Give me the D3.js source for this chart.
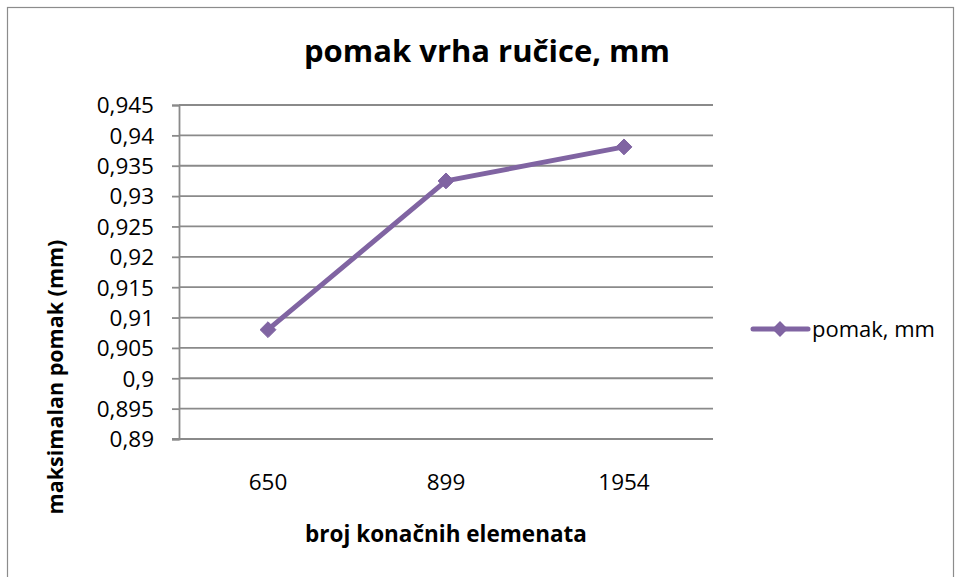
<!DOCTYPE html>
<html>
<head>
<meta charset="utf-8">
<script src="https://cdn.jsdelivr.net/npm/d3@7"></script>
<style>
  html, body { margin: 0; padding: 0; background: #fff; }
  svg text { font-family: "Open Sans", Lato, sans-serif; fill: #000; }
</style>
</head>
<body>
<svg id="chart" width="956" height="577"></svg>
<script>
// Mesh refinement study: max tip displacement vs. number of finite elements
const categories = ["650", "899", "1954"];
const pomak = [0.908, 0.9325, 0.9381];
const yTicks = [0.89, 0.895, 0.9, 0.905, 0.91, 0.915, 0.92, 0.925, 0.93, 0.935, 0.94, 0.945];
const seriesName = "pomak, mm";
const chartTitle = "pomak vrha ručice, mm";
const xTitle = "broj konačnih elemenata";
const yTitle = "maksimalan pomak (mm)";

const svg = d3.select("#chart");
const color = "#8064A2";
const gridColor = "#8a8a8a";

const plot = { left: 179, right: 713, top: 105, bottom: 439 };

// outer chart frame
svg.append("rect")
  .attr("x", 7.5).attr("y", 7.5)
  .attr("width", 946).attr("height", 600)
  .attr("fill", "none").attr("stroke", "#8c8c8c").attr("stroke-width", 1.2);

const x = d3.scaleBand().domain(categories).range([plot.left, plot.right]);
const y = d3.scaleLinear().domain([0.89, 0.945]).range([plot.bottom, plot.top]);

const fmt = v => d3.format("")(+v.toFixed(3)).replace(".", ",");

// horizontal gridlines
svg.append("g").selectAll("line")
  .data(yTicks.slice(1))
  .join("line")
  .attr("x1", plot.left).attr("x2", plot.right)
  .attr("y1", d => y(d)).attr("y2", d => y(d))
  .attr("stroke", gridColor).attr("stroke-width", 1.8);

// y axis
const yAxis = svg.append("g")
  .attr("transform", `translate(${plot.left},0)`)
  .call(d3.axisLeft(y).tickValues(yTicks).tickSize(7).tickPadding(18).tickFormat(fmt));
yAxis.select(".domain").attr("stroke", gridColor).attr("stroke-width", 1.8);
yAxis.selectAll(".tick line").attr("stroke", gridColor).attr("stroke-width", 1.8);
yAxis.selectAll(".tick text")
  .style("font-size", "22.5px").attr("fill", "#000").attr("dy", "0.35em");

// x axis
const xAxis = svg.append("g")
  .attr("transform", `translate(0,${plot.bottom})`)
  .call(d3.axisBottom(x).tickSize(0));
xAxis.select(".domain")
  .attr("d", `M${plot.left - 7},0H${plot.right}`)
  .attr("stroke", gridColor).attr("stroke-width", 1.8);
xAxis.selectAll(".tick text")
  .style("font-size", "22.5px").attr("fill", "#000")
  .attr("y", 51).attr("dy", null);

// series line
const line = d3.line()
  .x((d, i) => x(categories[i]) + x.bandwidth() / 2)
  .y(d => y(d));
svg.append("path")
  .datum(pomak)
  .attr("d", line)
  .attr("fill", "none")
  .attr("stroke", color)
  .attr("stroke-width", 5)
  .attr("stroke-linejoin", "round");

// diamond markers
const diamond = d3.symbol().type(d3.symbolDiamond2).size(160);
svg.append("g").selectAll("path")
  .data(pomak)
  .join("path")
  .attr("d", diamond)
  .attr("transform", (d, i) => `translate(${x(categories[i]) + x.bandwidth() / 2},${y(d)})`)
  .attr("fill", color).attr("stroke", color).attr("stroke-width", 1);

// titles
svg.append("text")
  .attr("x", 487).attr("y", 62)
  .attr("text-anchor", "middle")
  .style("font-size", "31px").style("font-weight", "bold")
  .text(chartTitle);

svg.append("text")
  .attr("x", 446).attr("y", 542)
  .attr("text-anchor", "middle")
  .style("font-size", "22.5px").style("font-weight", "bold")
  .text(xTitle);

svg.append("text")
  .attr("transform", "translate(63,377) rotate(-90)")
  .attr("text-anchor", "middle")
  .style("font-size", "21.5px").style("font-weight", "bold")
  .text(yTitle);

// legend
const lg = svg.append("g").attr("transform", "translate(753,329)");
lg.append("line")
  .attr("x1", 0).attr("x2", 55).attr("y1", 0).attr("y2", 0)
  .attr("stroke", color).attr("stroke-width", 5).attr("stroke-linecap", "round");
lg.append("path")
  .attr("d", diamond)
  .attr("transform", "translate(27,0)")
  .attr("fill", color);
lg.append("text")
  .attr("x", 59).attr("y", 8)
  .style("font-size", "22px")
  .text(seriesName);
</script>
</body>
</html>
